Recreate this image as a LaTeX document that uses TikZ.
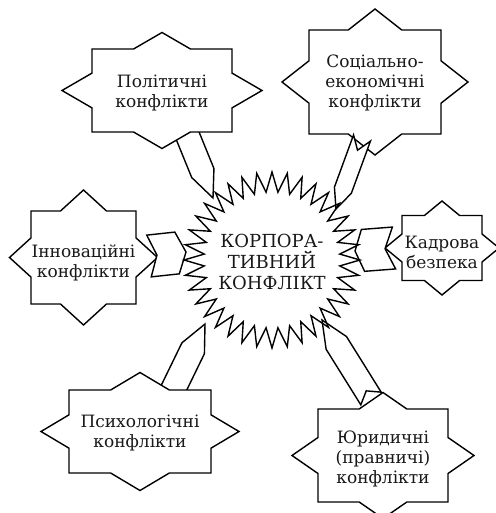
\documentclass[tikz,border=0pt]{standalone}
\usepackage{fontspec}
\setmainfont{DejaVu Serif}
\usetikzlibrary{calc}
\tikzset{
  outl/.style={draw=black, line width=1.4pt, fill=white},
  lbl/.style={align=center, inner sep=0pt, text=black!90,
    font=\fontsize{17}{20}\selectfont},
  corelbl/.style={align=center, inner sep=0pt, text=black!90,
    font=\fontsize{18}{21}\selectfont},
}
% satellite: name, cx, cy, rect half-w, rect half-h, diamond half-w, diamond half-h, text dy, text
\newcommand\satshape[9]{%
  \pgfmathsetmacro\sax{#6*(1-#5/#7)}%
  \pgfmathsetmacro\say{#7*(1-#4/#6)}%
  \path[outl] (#2-#4,#3-#5) -- (#2-\sax,#3-#5) -- (#2,#3-#7) -- (#2+\sax,#3-#5)
    -- (#2+#4,#3-#5) -- (#2+#4,#3-\say) -- (#2+#6,#3) -- (#2+#4,#3+\say)
    -- (#2+#4,#3+#5) -- (#2+\sax,#3+#5) -- (#2,#3+#7) -- (#2-\sax,#3+#5)
    -- (#2-#4,#3+#5) -- (#2-#4,#3+\say) -- (#2-#6,#3) -- (#2-#4,#3-\say) -- cycle;
  \node[lbl] (#1) at (#2,#3+#8) {#9};
}
% chevron: start (notch end), tip, half width, tip length, notch depth
\newcommand\chev[5]{%
  \coordinate (chB) at ($(#2)!#4!(#1)$);
  \path[outl] ($(#1)!#3!90:(#2)$) -- ($(chB)!#3!-90:(#1)$) -- (#2)
    -- ($(chB)!#3!90:(#1)$) -- ($(#1)!#3!-90:(#2)$) -- ($(#1)!#5!(#2)$) -- cycle;
}
\begin{document}
\begin{tikzpicture}[x=1pt,y=-1pt]
\useasboundingbox (0,0) rectangle (495,513);

\node[corelbl] (core) at (272,262) {КОРПОРА-\\ТИВНИЙ\\КОНФЛІКТ};

% chevrons lying under their boxes
\coordinate (polS) at (180,117); \coordinate (polE) at (213,198);
\coordinate (psyS) at (167,402); \coordinate (psyE) at (205,324);
\coordinate (yurS) at (371,398.5); \coordinate (yurE) at (322,320);
\chev{polS}{polE}{12pt}{27pt}{8pt}
\chev{psyS}{psyE}{12.5pt}{27pt}{8pt}
\chev{yurS}{yurE}{12pt}{27pt}{9pt}

\satshape{pol}{162}{90.5}{70}{41.5}{100}{58}{3}{Політичні\\конфлікти}
\satshape{soc}{375}{82}{66}{52}{93}{73}{1}{Соціально-\\економічні\\конфлікти}
\satshape{inn}{83.5}{257.5}{52.5}{46.5}{74}{67.5}{5}{Інноваційні\\конфлікти}
\satshape{kad}{442}{248}{40}{32.5}{57}{47}{4}{Кадрова\\безпека}
\satshape{psy}{140}{431.5}{71}{41.5}{99}{59}{2}{Психологічні\\конфлікти}
\satshape{yur}{383}{455.5}{65}{46.5}{91}{63}{3}{Юридичні\\(правничі)\\конфлікти}

% chevrons lying over their boxes
\coordinate (socS) at (362,138); \coordinate (socE) at (336,209);
\coordinate (innS) at (149,256); \coordinate (innE) at (186,252);
\coordinate (kadS) at (394,248); \coordinate (kadE) at (355,251);
\chev{socS}{socE}{9pt}{20pt}{13pt}
\chev{innS}{innE}{21pt}{9pt}{8pt}
\chev{kadS}{kadE}{21pt}{8pt}{9pt}

% central star outline
\draw[line width=1.4pt] ($(272,260)+(90:88)$)
  \foreach \k [evaluate=\k as \r using {88-20*mod(\k,2)}] in {1,...,71} { -- ($(272,260)+(90+5*\k:\r)$) } -- cycle;
\end{tikzpicture}
\end{document}
